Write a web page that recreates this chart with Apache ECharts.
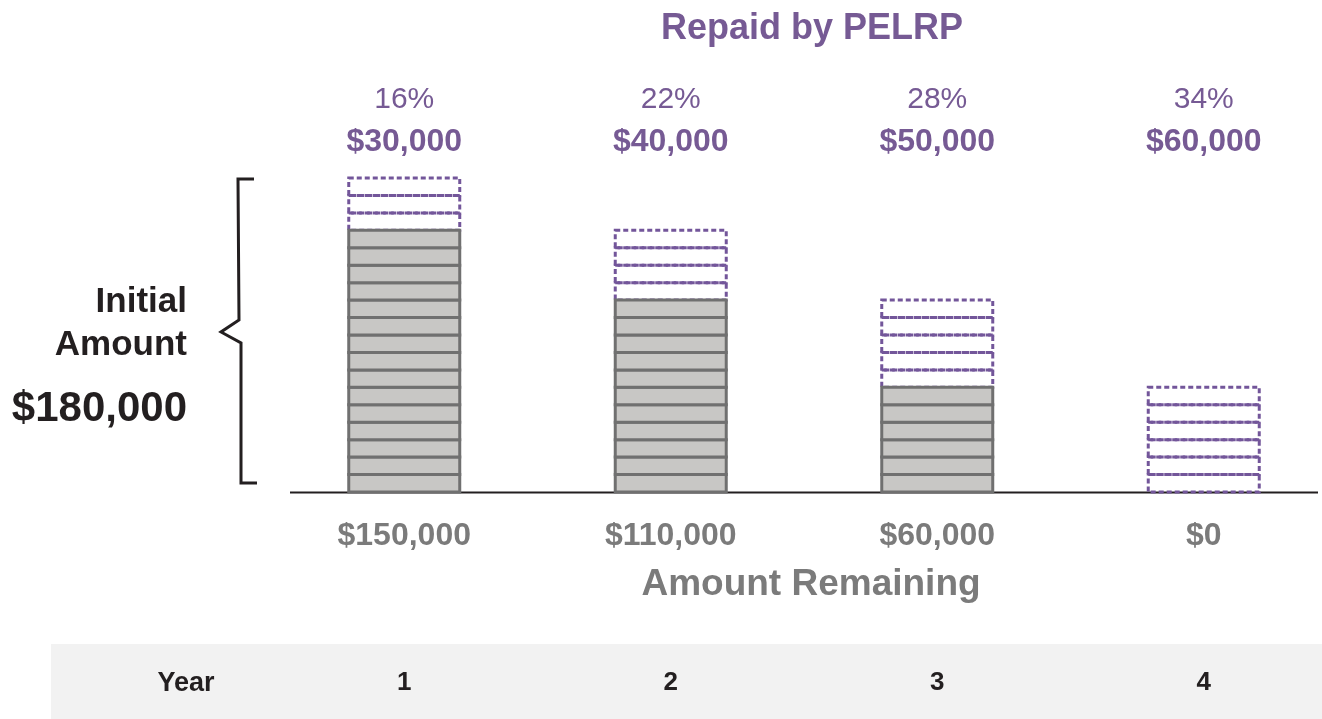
<!DOCTYPE html>
<html>
<head>
<meta charset="utf-8">
<script src="https://cdn.jsdelivr.net/npm/echarts@6/dist/echarts.min.js"></script>
<style>
  html, body { margin: 0; padding: 0; background: #fff; }
  #chart { width: 1322px; height: 719px; }
</style>
</head>
<body>
<div id="chart"></div>
<script>
(function(doc){

  // data
  var years = ['1', '2', '3', '4'];
  var remaining = [150000, 110000, 60000, 0];
  var repaid = [30000, 40000, 50000, 60000];
  var repaidPct = ['16%', '22%', '28%', '34%'];
  var initialAmount = 180000;
  var unit = 10000; // one stripe = $10,000

  var purple = '#765a94',
      greyText = '#7b7b7b',
      dark = '#231f20',
      font = '"Liberation Sans", Arial, Helvetica, sans-serif';

  var money = function(v) {
    return '$' + v.toString().replace(/\B(?=(\d{3})+(?!\d))/g, ',');
  };

  var drawChart = function() {
    var myChart = echarts.init(doc.getElementById('chart'));

    var option = {
      animation: false,
      textStyle: { fontFamily: font },
      grid: { left: 271, width: 1066, top: 178, height: 314, outerBoundsMode: 'none', containLabel: false },
      xAxis: [{
        type: 'category',
        data: remaining.map(money),
        axisLine: { show: false },
        axisTick: { show: false },
        axisLabel: {
          margin: 28, fontSize: 32, fontWeight: 'bold', color: greyText, fontFamily: font
        }
      }, {
        type: 'category',
        position: 'top',
        data: years.map(function(y, i){ return repaidPct[i] + '\n' + money(repaid[i]); }),
        axisLine: { show: false },
        axisTick: { show: false },
        axisLabel: {
          margin: 14,
          formatter: function(v) {
            var p = v.split('\n');
            return '{p|' + p[0] + '}\n{v|' + p[1] + '}';
          },
          rich: {
            p: { fontSize: 30, lineHeight: 43, color: purple, fontFamily: font },
            v: { fontSize: 32, lineHeight: 43, fontWeight: 'bold', color: purple, fontFamily: font }
          }
        }
      }, {
        type: 'category',
        position: 'bottom',
        offset: 178,
        data: years,
        axisLine: { show: false },
        axisTick: { show: false },
        axisLabel: {
          margin: 0, fontSize: 26, lineHeight: 26, fontWeight: 'bold', color: dark, fontFamily: font
        }
      }],
      yAxis: { type: 'value', min: 0, max: initialAmount, show: false },
      graphic: [
        // year row band
        { type: 'rect', z: -10, shape: { x: 51, y: 644, width: 1271, height: 75 }, style: { fill: '#f2f2f2' } },
        { type: 'text', x: 186, y: 684, style: { text: 'Year', fontSize: 27, fontWeight: 'bold', fill: dark, align: 'center', verticalAlign: 'middle', fontFamily: font } },
        // baseline
        { type: 'line', shape: { x1: 290, y1: 492.5, x2: 1318, y2: 492.5 }, style: { stroke: dark, lineWidth: 2 }, z: 1 },
        // titles
        { type: 'text', x: 812, y: 29, style: { text: 'Repaid by PELRP', fontSize: 36, fontWeight: 'bold', fill: purple, align: 'center', verticalAlign: 'middle', fontFamily: font } },
        { type: 'text', x: 811, y: 585, style: { text: 'Amount Remaining', fontSize: 37, fontWeight: 'bold', fill: greyText, align: 'center', verticalAlign: 'middle', fontFamily: font } },
        // left side
        { type: 'text', x: 187, y: 302, style: { text: 'Initial', fontSize: 35, fontWeight: 'bold', fill: dark, align: 'right', verticalAlign: 'middle', fontFamily: font } },
        { type: 'text', x: 187, y: 345, style: { text: 'Amount', fontSize: 35, fontWeight: 'bold', fill: dark, align: 'right', verticalAlign: 'middle', fontFamily: font } },
        { type: 'text', x: 187, y: 409, style: { text: money(initialAmount), fontSize: 42, fontWeight: 'bold', fill: dark, align: 'right', verticalAlign: 'middle', fontFamily: font } },
        // brace
        { type: 'polyline', shape: { points: [[254, 179], [238, 179], [239, 320], [221, 332], [241, 343], [241, 483], [257, 483]] },
          style: { stroke: dark, lineWidth: 3, fill: null, lineJoin: 'miter' } }
      ],
      series: [{
        type: 'custom',
        xAxisIndex: 0,
        data: years.map(function(y, i){ return [i, remaining[i], repaid[i]]; }),
        encode: { x: 0, y: [1, 2] },
        renderItem: function(params, api) {
          var x = api.value(0),
              rem = api.value(1),
              rep = api.value(2),
              bw = api.size([1, 0])[0] * 0.4165,
              children = [];

          var cell = function(lo, hi, style) {
            var p0 = api.coord([x, lo]), p1 = api.coord([x, hi]);
            return {
              type: 'rect',
              shape: { x: p0[0] - bw / 2, y: p1[1], width: bw, height: p0[1] - p1[1] },
              style: style
            };
          };

          // dashed: repaid part on top
          for (var k = rem; k < rem + rep; k += unit) {
            children.push(cell(k, k + unit, { fill: 'none', stroke: '#73569a', lineWidth: 3, lineDash: [5, 3] }));
          }
          // grey: amount remaining
          for (var j = 0; j < rem; j += unit) {
            children.push(cell(j, j + unit, { fill: '#c8c7c5', stroke: '#707070', lineWidth: 3 }));
          }
          return { type: 'group', children: children };
        }
      }]
    };

    myChart.setOption(option);
  };

  drawChart();

})(document);
</script>
</body>
</html>
